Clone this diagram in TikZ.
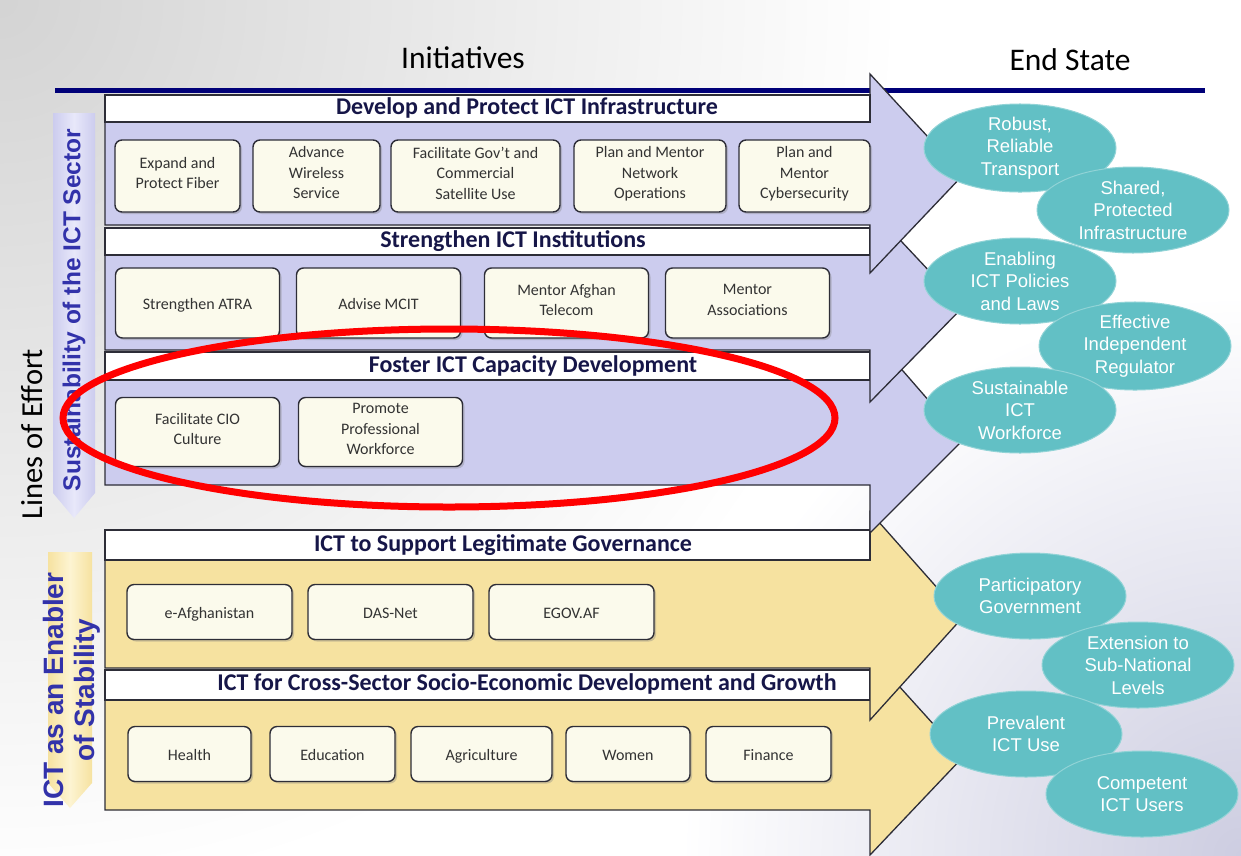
\documentclass[tikz,border=0pt]{standalone}
\usepackage{fontspec}
\setmainfont{Carlito}
\newfontfamily\arialfont{Liberation Sans}
\usetikzlibrary{shapes.geometric,shadows}

\definecolor{lav}{RGB}{204,204,238}
\definecolor{lavlight}{RGB}{232,232,250}
\definecolor{gold}{RGB}{246,226,160}
\definecolor{goldlight}{RGB}{253,244,210}
\definecolor{cream}{RGB}{251,250,236}
\definecolor{navy}{RGB}{0,0,120}
\definecolor{headblue}{RGB}{22,22,72}
\definecolor{loeblue}{RGB}{50,50,170}
\definecolor{tealfill}{RGB}{98,192,197}
\definecolor{bandline}{RGB}{45,45,55}
\definecolor{bgblue}{RGB}{205,205,225}

\tikzset{
  band/.style={draw=bandline, line width=1.3pt, line join=miter},
  headbar/.style={draw=bandline, line width=1.3pt, fill=white},
  headtext/.style={font=\fontsize{24}{27}\selectfont\bfseries, text=headblue},
  initbox/.style={draw=bandline, line width=1.4pt, rounded corners=7pt, fill=cream,
    align=center, inner sep=2pt, font=\fontsize{16}{20.5}\selectfont, text=black!80,
    execute at begin node={\rule{0pt}{20pt}}, execute at end node=\strut,
    drop shadow={shadow xshift=2pt, shadow yshift=-2pt, opacity=0.35}},
  endstate/.style={ellipse, fill=tealfill, draw=tealfill!70!white, line width=1pt,
    minimum width=192pt, minimum height=86pt, inner sep=0pt, align=center,
    text=white, font=\arialfont\fontsize{18.5}{22.5}\selectfont},
  loeside/.style={rotate=90, font=\arialfont\bfseries\fontsize{24.5}{30}\selectfont, text=loeblue}
}

\begin{document}
\begin{tikzpicture}[x=1pt,y=-1pt]
  \useasboundingbox (0,0) rectangle (1241,855);
  % background
  \fill[white] (0,0) rectangle (1241,855);
  \begin{scope}
    \clip (0,0) rectangle (1241,855);
    \shade[inner color=black!17, outer color=white] (0,0) circle [radius=900pt];
    \shade[inner color=bgblue, outer color=white] (1241,855) circle [radius=560pt];
  \end{scope}

  % column titles
  \node[font=\fontsize{31.5}{35}\selectfont] (init) at (463,58) {Initiatives};
  \node[font=\fontsize{31.5}{35}\selectfont] (endst) at (1070,60) {End State};
  \draw[navy, line width=5pt] (55,90) -- (1205,90);

  % lines of effort
  \node[rotate=90, font=\fontsize{30.5}{34}\selectfont] (loe) at (32,434) {Lines of Effort};
  \shade[left color=lav, right color=lav, middle color=lavlight]
    (53,113) -- (95,113) -- (95,493) -- (74,518) -- (53,493) -- cycle;
  \node[loeside] (sust) at (74,310) {Sustainability of the ICT Sector};
  \shade[left color=gold, right color=gold, middle color=goldlight]
    (48,552) -- (92,552) -- (92,783) -- (70,808) -- (48,783) -- cycle;
  \node[loeside, align=center, font=\arialfont\bfseries\fontsize{28}{31}\selectfont] (enab) at (72,690) {ICT as an Enabler\\of Stability};

  % bands, bottom one first so the upper heads overlap
  \foreach \ytop/\ybot/\hdr/\htop/\hbot/\tipy/\col in
    {670/810/30/654/855/757/gold, 530/668/30/512/720/617/gold,
     352/485/28/333/533/440/lav, 228/350/27/208/402/307/lav, 95/225/27/74/273/175/lav}{
    \draw[band, fill=\col] (105,\ytop) -- (870,\ytop) -- (870,\htop) -- (963,\tipy)
      -- (870,\hbot) -- (870,\ybot) -- (105,\ybot) -- cycle;
    \draw[headbar] (105,\ytop) rectangle (870,\ytop+\hdr);
  }
  \node[headtext] (h1) at (527,108) {Develop and Protect ICT Infrastructure};
  \node[headtext] (h2) at (513,241) {Strengthen ICT Institutions};
  \node[headtext] (h3) at (533,366) {Foster ICT Capacity Development};
  \node[headtext] (h4) at (503,545) {ICT to Support Legitimate Governance};
  \node[headtext] (h5) at (527,684) {ICT for Cross-Sector Socio-Economic Development and Growth};

  % initiatives
  \foreach \x/\w/\t [count=\i] in {177.5/125/{Expand and\\Protect Fiber},
      316.5/127/{Advance\\Wireless\\Service}, 475.5/169/{Facilitate Gov’t and\\Commercial\\Satellite Use},
      650/152/{Plan and Mentor\\Network\\Operations}, 804.5/131/{Plan and\\Mentor\\Cybersecurity}}
    \node[initbox, minimum width=\w pt, minimum height=72pt] (a\i) at (\x,176) {\t};
  \foreach \x/\t [count=\i] in {197.5/Strengthen ATRA, 378.5/Advise MCIT,
      566.5/{Mentor Afghan\\Telecom}, 747.5/{Mentor\\Associations}}
    \node[initbox, minimum width=164pt, minimum height=70pt] (b\i) at (\x,303) {\t};
  \foreach \x/\t [count=\i] in {197.5/{Facilitate CIO\\Culture}, 380.5/{Promote\\Professional\\Workforce}}
    \node[initbox, minimum width=164pt, minimum height=69pt] (c\i) at (\x,432) {\t};
  \foreach \x/\t [count=\i] in {209.5/e-Afghanistan, 390.5/DAS-Net, 571.5/EGOV.AF}
    \node[initbox, minimum width=165pt, minimum height=55pt] (d\i) at (\x,612) {\t};
  \foreach \x/\w/\t [count=\i] in {189.5/123/Health, 332.5/125/Education,
      481.5/141/Agriculture, 628/124/Women, 768.5/125/Finance}
    \node[initbox, minimum width=\w pt, minimum height=55pt] (e\i) at (\x,754) {\t};

  % end states
  \foreach \x/\y/\t [count=\i] in {1020/148/{Robust,\\Reliable\\Transport},
      1133/210/{Shared,\\Protected\\Infrastructure}, 1020/281/{Enabling\\ICT Policies\\and Laws},
      1135/346/{Effective\\Independent\\Regulator}, 1020/410/{Sustainable\\ICT\\Workforce},
      1030/596/{Participatory\\Government}, 1138/665/{Extension to\\Sub-National\\Levels},
      1026/734/{Prevalent\\ICT Use}, 1142/794/{Competent\\ICT Users}}
    \node[endstate] (es\i) at (\x,\y) {\t};

  % highlight
  \draw[red, line width=7pt] (449,418) ellipse [x radius=386pt, y radius=89pt];
\end{tikzpicture}
\end{document}
